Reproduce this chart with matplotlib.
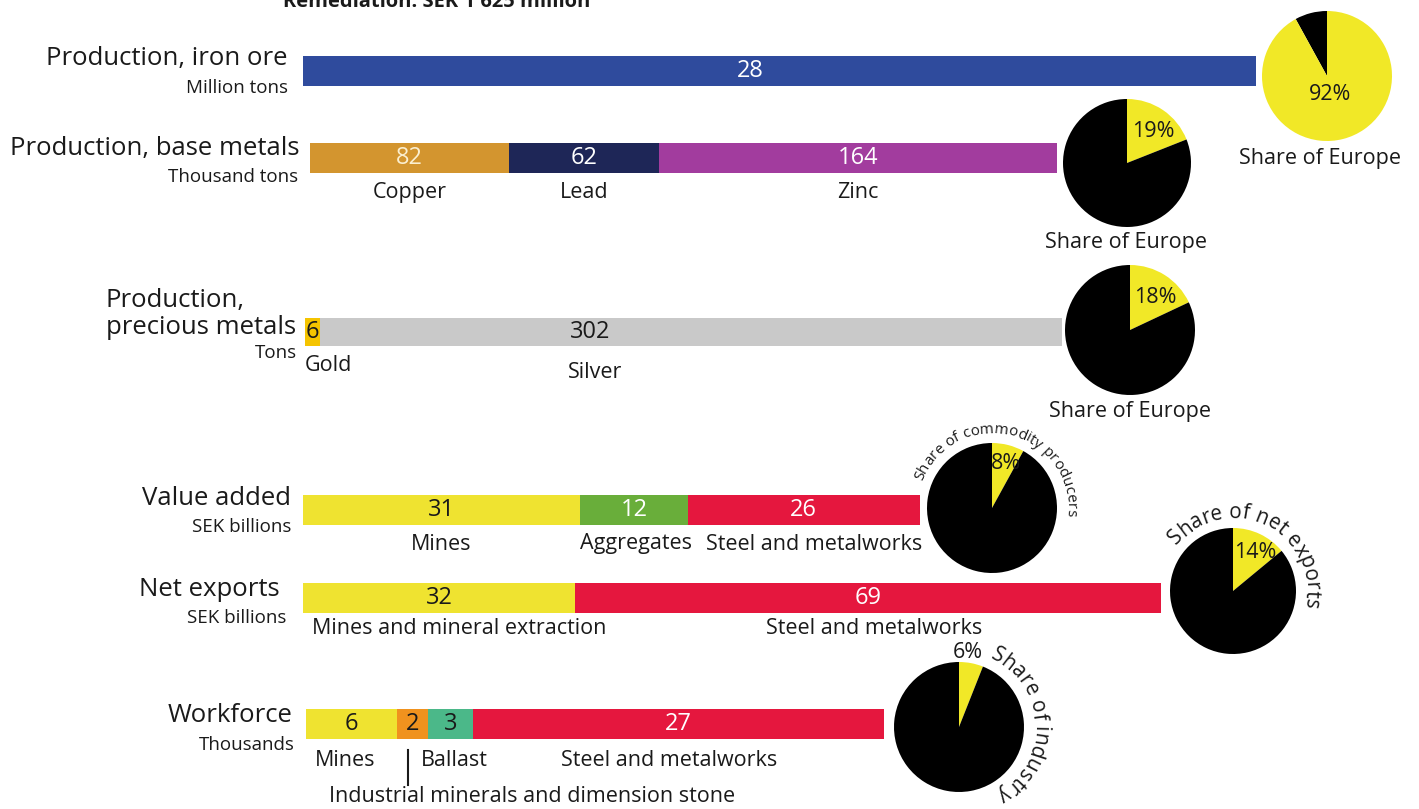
import numpy as np
import matplotlib
matplotlib.use('Agg')
import matplotlib.pyplot as plt
from matplotlib.font_manager import FontProperties, findfont, get_font

plt.rcParams['font.family'] = ['Open Sans', 'DejaVu Sans']

# Datos
hierro_val = [28]
base_cat = ['Copper', 'Lead', 'Zinc']
base_val = [82, 62, 164]
prec_cat = ['Gold', 'Silver']
prec_val = [6, 302]
valor_cat = ['Mines', 'Aggregates', 'Steel and metalworks']
valor_val = [31, 12, 26]
export_cat = ['Mines and mineral extraction', 'Steel and metalworks']
export_val = [32, 69]
trabajo_cat = ['Mines', 'Industrial minerals and dimension stone', 'Ballast', 'Steel and metalworks']
trabajo_val = [6, 2, 3, 27]
cuotas = [92, 19, 18, 8, 14, 6]

W, H = 1419, 809
TXT = '#1a1a1a'
AMARILLO = '#F1E827'


def Y(p):
    # coordenada en pixeles desde arriba
    return H - p


fig = plt.figure(figsize=(W / 100, H / 100), dpi=100)
ax = fig.add_axes([0, 0, 1, 1])
ax.set_xlim(0, W)
ax.set_ylim(0, H)


def barra(valores, colores, x0, ancho, yc, alto=30):
    esc = ancho / sum(valores)
    anchos = np.array(valores) * esc
    izq = x0 + np.concatenate([[0], np.cumsum(anchos)[:-1]])
    ax.barh(Y(yc), anchos, left=izq, height=alto, color=colores, linewidth=0)
    return izq + anchos / 2


def numeros(valores, xs, yc, colores_txt):
    for v, x, c in zip(valores, xs, colores_txt):
        ax.text(x, Y(yc), str(v), ha='center', va='center', fontsize=17, color=c)


def titulo(t1, t2, x, y1, y2, x2=None):
    ax.text(x, Y(y1), t1, ha='right', va='center', fontsize=18.5, color=TXT)
    ax.text(x if x2 is None else x2, Y(y2), t2, ha='right', va='center', fontsize=13.5, color=TXT)


def torta(cuota, cx, cy, r, negro_primero=False):
    if negro_primero:
        ax.pie([100 - cuota, cuota], colors=['black', AMARILLO], startangle=90,
               counterclock=True, center=(cx, Y(cy)), radius=r, frame=True,
               wedgeprops=dict(linewidth=0))
    else:
        ax.pie([cuota, 100 - cuota], colors=[AMARILLO, 'black'], startangle=90,
               counterclock=False, center=(cx, Y(cy)), radius=r, frame=True,
               wedgeprops=dict(linewidth=0))


def texto_curvo(texto, cx, cy, r, ang_ini, ang_fin):
    fp = FontProperties(family='Open Sans')
    fuente = get_font(findfont(fp))
    fuente.set_size(10, 100)
    avances = [fuente.load_char(ord(c)).linearHoriAdvance / 65536 for c in texto]
    arco = np.radians(ang_ini - ang_fin) * r
    k = arco / sum(avances)
    tam = 10 * k
    pos = 0
    for c, a in zip(texto, avances):
        s = (pos + a / 2) * k
        th = np.radians(ang_ini) - s / r
        ax.text(cx + r * np.cos(th), Y(cy) + r * np.sin(th), c, fontsize=tam,
                rotation=np.degrees(th) - 90, rotation_mode='anchor',
                ha='center', va='baseline', color=TXT)
        pos += a


# Texto cortado arriba
ax.text(283, Y(7), 'Remediation: SEK 1 625 million', fontsize=14.5, fontweight='bold',
        color=TXT, va='baseline')

# Hierro
barra(hierro_val, ['#2F4B9D'], 303, 953, 71)
numeros(hierro_val, [750], 71, ['white'])
titulo('Production, iron ore', 'Million tons', 288, 58, 88)
torta(cuotas[0], 1327, 76, 65, negro_primero=True)
ax.text(1330, Y(94), f'{cuotas[0]}%', ha='center', va='center', fontsize=15.5, color=TXT)
ax.text(1320, Y(158), 'Share of Europe', ha='center', va='center', fontsize=15.5, color=TXT)

# Metales base
cen = barra(base_val, ['#D3952F', '#1E2657', '#A23C9E'], 310, 747, 158)
numeros(base_val, cen, 158, ['#FBEFD0', 'white', 'white'])
titulo('Production, base metals', 'Thousand tons', 300, 148, 177, x2=298)
for c, x in zip(base_cat, cen):
    ax.text(x, Y(192), c, ha='center', va='center', fontsize=15.5, color=TXT)
torta(cuotas[1], 1127, 163, 64)
ax.text(1153, Y(131), f'{cuotas[1]}%', ha='center', va='center', fontsize=15.5, color=TXT)
ax.text(1126, Y(242), 'Share of Europe', ha='center', va='center', fontsize=15.5, color=TXT)

# Metales preciosos
cen = barra(prec_val, ['#F5C400', '#C9C9C9'], 305, 757, 332, alto=28)
numeros(prec_val, [cen[0], 590], 332, [TXT, TXT])
t = ax.text(296, Y(327), 'precious metals', ha='right', va='center', fontsize=18.5, color=TXT)
x_izq = t.get_window_extent(renderer=fig.canvas.get_renderer()).x0
ax.text(x_izq, Y(300), 'Production,', ha='left', va='center', fontsize=18.5, color=TXT)
ax.text(297, Y(353), 'Tons', ha='right', va='center', fontsize=13.5, color=TXT)
ax.text(305, Y(365), prec_cat[0], ha='left', va='center', fontsize=15.5, color=TXT)
ax.text(595, Y(372), prec_cat[1], ha='center', va='center', fontsize=15.5, color=TXT)
torta(cuotas[2], 1130, 330, 65)
ax.text(1155, Y(297), f'{cuotas[2]}%', ha='center', va='center', fontsize=15.5, color=TXT)
ax.text(1130, Y(411), 'Share of Europe', ha='center', va='center', fontsize=15.5, color=TXT)

# Valor agregado
cen = barra(valor_val, ['#EFE330', '#69AE3A', '#E5173E'], 303, 617, 510)
numeros(valor_val, cen, 510, [TXT, 'white', 'white'])
titulo('Value added', 'SEK billions', 291, 498, 527)
for c, x in zip(valor_cat, [441, 636, 814]):
    ax.text(x, Y(544), c, ha='center', va='center', fontsize=15.5, color=TXT)
torta(cuotas[3], 992, 508, 65)
ax.text(1006, Y(463), f'{cuotas[3]}%', ha='center', va='center', fontsize=15.5, color=TXT)
texto_curvo('Share of commodity producers', 992, 508, 75, 159, -6)

# Exportaciones netas
cen = barra(export_val, ['#EFE330', '#E5173E'], 303, 858, 598)
numeros(export_val, cen, 598, [TXT, 'white'])
titulo('Net exports', 'SEK billions', 280, 589, 618, x2=286)
for c, x in zip(export_cat, [459, 874]):
    ax.text(x, Y(629), c, ha='center', va='center', fontsize=15.5, color=TXT)
torta(cuotas[4], 1233, 591, 63)
ax.text(1255, Y(552), f'{cuotas[4]}%', ha='center', va='center', fontsize=15.5, color=TXT)
texto_curvo('Share of net exports', 1233, 591, 73, 141, -13)

# Fuerza laboral
cen = barra(trabajo_val, ['#EFE330', '#F0921E', '#4BB889', '#E5173E'], 306, 578, 724)
numeros(trabajo_val, cen, 724, [TXT, TXT, TXT, 'white'])
titulo('Workforce', 'Thousands', 293, 715, 745, x2=295)
for c, x, y in zip(trabajo_cat, [345, 532, 454, 669], [760, 796, 760, 760]):
    ax.text(x, Y(y), c, ha='center', va='center', fontsize=15.5, color=TXT)
ax.plot([408, 408], [Y(750), Y(785)], color=TXT, linewidth=1.5)
torta(cuotas[5], 959, 727, 65)
ax.text(968, Y(653), f'{cuotas[5]}%', ha='center', va='center', fontsize=15.5, color=TXT)
texto_curvo('Share of industry', 959, 727, 75, 66, -60)

ax.set_xlim(0, W)
ax.set_ylim(0, H)
ax.set_aspect('auto')
ax.axis('off')

fig.savefig('out.png', dpi=100, facecolor='white')
